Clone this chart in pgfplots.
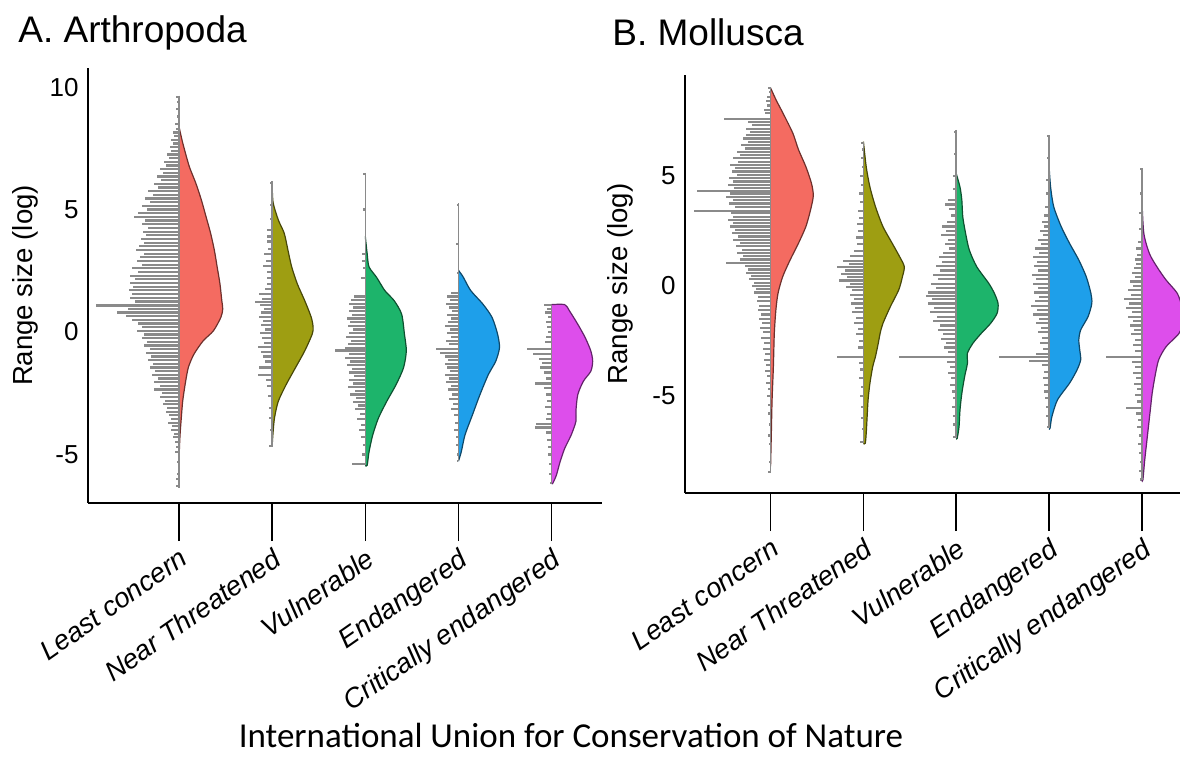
\documentclass[border=0pt]{standalone}
\usepackage{fontspec}
\setmainfont{Liberation Sans}
\newfontfamily\calib{Carlito}
\usepackage{pgfplots}
\usepackage{pgfplotstable}
\pgfplotsset{compat=1.18}

\definecolor{cLC}{HTML}{F46B61}
\definecolor{cNT}{HTML}{9E9E12}
\definecolor{cV}{HTML}{1DB46B}
\definecolor{cE}{HTML}{1E9FEA}
\definecolor{cCE}{HTML}{DD4EEB}
\definecolor{rug}{HTML}{8A8A8A}

% ---------------- Panel A: gray rug lines (y = value, w = length in category units)
\pgfplotstableread{
y w
9.60 0.03
9.40 0.02
9.10 0.03
8.80 0.02
8.50 0.04
8.30 0.03
8.15 0.06
8.00 0.05
7.85 0.08
7.70 0.06
7.55 0.10
7.40 0.08
7.25 0.13
7.10 0.11
6.95 0.16
6.80 0.14
6.65 0.20
6.50 0.17
6.35 0.24
6.20 0.19
6.05 0.27
5.90 0.22
5.75 0.33
5.60 0.28
5.45 0.36
5.30 0.31
5.15 0.40
5.00 0.34
4.85 0.44
4.70 0.48
4.55 0.36
4.40 0.40
4.25 0.33
4.10 0.39
3.95 0.35
3.80 0.41
3.65 0.37
3.50 0.43
3.35 0.46
3.20 0.38
3.05 0.42
2.90 0.45
2.75 0.40
2.60 0.50
2.45 0.44
2.30 0.52
2.15 0.47
2.00 0.53
1.85 0.49
1.70 0.54
1.55 0.50
1.40 0.52
1.25 0.47
1.08 0.89
0.95 0.55
0.80 0.66
0.65 0.57
0.50 0.50
0.35 0.44
0.20 0.40
0.05 0.45
-0.10 0.37
-0.25 0.40
-0.40 0.34
-0.55 0.38
-0.70 0.31
-0.85 0.35
-1.00 0.30
-1.15 0.33
-1.30 0.28
-1.45 0.31
-1.60 0.26
-1.75 0.29
-1.90 0.23
-2.05 0.27
-2.20 0.20
-2.35 0.27
-2.50 0.18
-2.65 0.20
-2.80 0.15
-2.95 0.17
-3.10 0.13
-3.25 0.14
-3.40 0.11
-3.55 0.09
-3.70 0.12
-3.85 0.07
-4.00 0.08
-4.15 0.05
-4.30 0.06
-4.50 0.04
-4.70 0.03
-4.90 0.04
-5.30 0.02
-5.80 0.02
-6.00 0.03
-6.30 0.03
}\gALC
\pgfplotstableread{
y w
6.10 0.02
5.20 0.02
4.60 0.02
4.15 0.06
3.90 0.05
3.70 0.06
3.40 0.04
3.20 0.09
2.90 0.07
2.70 0.10
2.45 0.05
2.20 0.06
1.95 0.05
1.75 0.08
1.55 0.14
1.35 0.11
1.22 0.18
1.10 0.13
0.95 0.09
0.80 0.12
0.60 0.14
0.45 0.10
0.30 0.12
0.10 0.08
-0.05 0.13
-0.25 0.11
-0.45 0.09
-0.60 0.15
-0.80 0.12
-1.00 0.10
-1.20 0.08
-1.45 0.14
-1.75 0.15
-1.95 0.07
-2.20 0.05
-2.60 0.04
-3.10 0.03
-3.50 0.03
-4.00 0.02
-4.65 0.03
}\gANT
\pgfplotstableread{
y w
6.45 0.02
5.00 0.02
3.20 0.04
2.90 0.04
2.60 0.03
2.20 0.05
1.45 0.12
1.30 0.15
1.15 0.17
1.00 0.13
0.85 0.18
0.70 0.14
0.55 0.20
0.40 0.16
0.25 0.19
0.10 0.13
-0.05 0.17
-0.20 0.21
-0.35 0.15
-0.50 0.19
-0.65 0.22
-0.75 0.33
-0.90 0.18
-1.05 0.22
-1.20 0.16
-1.35 0.20
-1.50 0.14
-1.65 0.18
-1.80 0.12
-1.95 0.17
-2.10 0.13
-2.25 0.19
-2.40 0.11
-2.55 0.16
-2.70 0.10
-2.85 0.13
-3.00 0.08
-3.15 0.11
-3.35 0.06
-3.55 0.09
-3.80 0.05
-4.00 0.07
-4.30 0.05
-4.60 0.03
-5.00 0.04
-5.40 0.14
}\gAV
\pgfplotstableread{
y w
5.20 0.02
3.60 0.03
2.40 0.02
1.60 0.08
1.45 0.12
1.30 0.09
1.15 0.13
1.00 0.10
0.85 0.07
0.70 0.12
0.55 0.08
0.40 0.11
0.25 0.14
0.10 0.09
-0.05 0.12
-0.20 0.08
-0.35 0.13
-0.50 0.10
-0.70 0.24
-0.85 0.20
-1.00 0.14
-1.15 0.11
-1.30 0.15
-1.45 0.12
-1.60 0.09
-1.75 0.14
-1.90 0.10
-2.05 0.13
-2.20 0.08
-2.35 0.11
-2.55 0.07
-2.75 0.10
-2.95 0.06
-3.15 0.08
-3.40 0.05
-3.70 0.04
-4.00 0.05
-4.30 0.03
-4.60 0.03
-5.00 0.02
-5.25 0.02
}\gAE
\pgfplotstableread{
y w
1.10 0.08
0.95 0.05
0.80 0.07
0.60 0.04
0.40 0.06
0.20 0.05
0.00 0.04
-0.20 0.06
-0.40 0.07
-0.70 0.26
-0.90 0.20
-1.10 0.14
-1.25 0.10
-1.45 0.13
-1.65 0.08
-1.90 0.06
-2.10 0.18
-2.30 0.08
-2.55 0.06
-2.80 0.05
-3.05 0.07
-3.35 0.05
-3.55 0.06
-3.75 0.17
-3.90 0.18
-4.10 0.06
-4.40 0.05
-4.70 0.04
-5.00 0.04
-5.40 0.03
-5.80 0.03
-6.15 0.02
}\gACE

% ---------------- Panel A: half violins (v = value, w = half width)
\pgfplotstableread{
v w
8.40 0
7.73 0.04
6.77 0.11
6.09 0.18
5.40 0.24
4.72 0.29
4.03 0.34
3.34 0.38
2.66 0.41
1.97 0.44
1.28 0.46
0.94 0.47
0.60 0.45
0.05 0.37
-0.36 0.26
-0.91 0.16
-1.46 0.10
-2.15 0.066
-2.83 0.04
-3.52 0.025
-4.19 0.012
-4.89 0.004
-6.00 0
}\vALC
\pgfplotstableread{
v w
6.10 0
5.30 0.01
4.58 0.066
4.03 0.13
3.34 0.17
2.66 0.21
1.97 0.27
1.28 0.35
0.60 0.42
0.19 0.44
-0.09 0.43
-0.77 0.35
-1.46 0.25
-2.15 0.15
-2.83 0.066
-3.52 0.025
-4.20 0.008
-4.68 0
}\vANT
\pgfplotstableread{
v w
3.90 0
3.20 0.02
2.66 0.04
2.24 0.12
1.69 0.21
1.28 0.31
0.73 0.39
-0.09 0.42
-0.77 0.44
-1.46 0.41
-2.15 0.33
-2.83 0.23
-3.52 0.14
-4.20 0.08
-4.89 0.04
-5.44 0.02
-5.45 0
}\vAV
\pgfplotstableread{
v w
2.52 0
2.25 0.05
1.70 0.13
1.15 0.26
0.60 0.36
-0.09 0.42
-0.64 0.44
-1.19 0.40
-1.74 0.32
-2.56 0.23
-3.38 0.15
-4.20 0.07
-4.89 0.03
-5.27 0
}\vAE
\pgfplotstableread{
v w
1.12 0
1.12 0.14
0.87 0.19
0.32 0.28
-0.23 0.36
-0.77 0.42
-1.19 0.44
-1.60 0.42
-2.01 0.34
-2.56 0.28
-3.24 0.26
-3.65 0.26
-4.20 0.21
-4.75 0.14
-5.30 0.09
-5.85 0.05
-6.19 0.01
-6.20 0
}\vACE

% ---------------- Panel B: gray rug lines
\pgfplotstableread{
y w
9.00 0.03
8.80 0.02
8.60 0.04
8.40 0.05
8.20 0.04
8.00 0.07
7.85 0.06
7.60 0.50
7.45 0.24
7.30 0.20
7.15 0.27
7.00 0.22
6.85 0.26
6.70 0.30
6.55 0.24
6.40 0.32
6.25 0.28
6.10 0.36
5.95 0.33
5.80 0.40
5.65 0.35
5.50 0.44
5.35 0.38
5.20 0.42
5.05 0.36
4.90 0.45
4.75 0.40
4.60 0.46
4.45 0.39
4.33 0.79
4.20 0.44
4.05 0.48
3.90 0.41
3.75 0.45
3.60 0.38
3.42 0.83
3.30 0.43
3.15 0.40
3.00 0.46
2.85 0.41
2.70 0.44
2.55 0.38
2.40 0.42
2.25 0.35
2.10 0.40
1.95 0.33
1.80 0.37
1.65 0.31
1.50 0.36
1.35 0.30
1.20 0.33
1.03 0.48
0.90 0.28
0.75 0.24
0.60 0.26
0.45 0.21
0.30 0.23
0.15 0.18
0.00 0.20
-0.15 0.16
-0.30 0.18
-0.50 0.14
-0.70 0.15
-0.90 0.12
-1.10 0.14
-1.30 0.10
-1.50 0.12
-1.70 0.09
-1.90 0.11
-2.10 0.08
-2.35 0.10
-2.60 0.07
-2.85 0.08
-3.10 0.06
-3.35 0.07
-3.60 0.05
-3.85 0.06
-4.10 0.04
-4.40 0.05
-4.70 0.03
-5.00 0.04
-5.40 0.03
-5.80 0.03
-6.30 0.02
-6.80 0.03
-7.20 0.02
-8.00 0.02
-8.45 0.03
}\gBLC
\pgfplotstableread{
y w
6.50 0.03
6.20 0.02
5.80 0.03
5.40 0.02
5.00 0.04
4.60 0.03
4.20 0.05
3.80 0.04
3.40 0.06
3.10 0.05
2.80 0.07
2.50 0.06
2.20 0.08
1.90 0.07
1.60 0.10
1.35 0.14
1.15 0.22
1.00 0.16
0.85 0.28
0.70 0.20
0.55 0.24
0.40 0.18
0.25 0.26
0.10 0.15
-0.05 0.19
-0.20 0.12
-0.40 0.15
-0.60 0.10
-0.80 0.13
-1.00 0.09
-1.20 0.12
-1.45 0.08
-1.70 0.10
-1.95 0.06
-2.20 0.08
-2.50 0.05
-2.80 0.06
-3.24 0.28
-3.50 0.05
-3.80 0.04
-4.20 0.05
-4.60 0.03
-5.00 0.04
-5.50 0.03
-6.00 0.03
-6.50 0.02
-7.10 0.04
}\gBNT
\pgfplotstableread{
y w
7.00 0.02
6.00 0.02
5.00 0.03
4.40 0.04
3.90 0.09
3.70 0.12
3.50 0.08
3.20 0.06
2.90 0.10
2.70 0.15
2.50 0.11
2.30 0.16
2.10 0.09
1.90 0.12
1.70 0.08
1.50 0.14
1.30 0.19
1.10 0.15
0.90 0.22
0.70 0.18
0.50 0.25
0.30 0.20
0.10 0.27
-0.10 0.22
-0.30 0.30
-0.45 0.33
-0.60 0.26
-0.80 0.30
-1.00 0.24
-1.20 0.28
-1.40 0.21
-1.60 0.25
-1.80 0.17
-2.00 0.20
-2.20 0.14
-2.40 0.16
-2.60 0.11
-2.80 0.13
-3.00 0.09
-3.24 0.62
-3.45 0.10
-3.70 0.07
-3.95 0.09
-4.20 0.06
-4.50 0.07
-4.80 0.05
-5.10 0.04
-5.50 0.05
-5.90 0.03
-6.30 0.03
-6.85 0.03
}\gBV
\pgfplotstableread{
y w
6.80 0.02
5.80 0.02
4.80 0.03
4.20 0.03
3.60 0.04
3.20 0.05
2.90 0.08
2.70 0.06
2.50 0.10
2.30 0.07
2.10 0.12
1.90 0.09
1.70 0.15
1.50 0.11
1.30 0.17
1.10 0.13
0.90 0.16
0.70 0.12
0.50 0.18
0.30 0.14
0.10 0.17
-0.10 0.12
-0.30 0.16
-0.50 0.11
-0.70 0.15
-0.90 0.19
-1.10 0.13
-1.30 0.17
-1.50 0.11
-1.70 0.14
-1.90 0.09
-2.10 0.12
-2.35 0.08
-2.60 0.10
-2.85 0.07
-3.10 0.14
-3.24 0.54
-3.40 0.22
-3.60 0.08
-3.90 0.06
-4.20 0.07
-4.50 0.05
-4.80 0.06
-5.10 0.04
-5.50 0.03
-5.90 0.03
-6.40 0.02
}\gBE
\pgfplotstableread{
y w
5.30 0.02
4.20 0.02
3.30 0.03
2.60 0.03
2.00 0.04
1.70 0.06
1.40 0.05
1.20 0.07
1.00 0.06
0.80 0.09
0.60 0.11
0.40 0.08
0.20 0.13
0.00 0.10
-0.20 0.15
-0.40 0.12
-0.60 0.19
-0.80 0.14
-1.00 0.17
-1.20 0.11
-1.40 0.15
-1.60 0.10
-1.80 0.13
-2.00 0.09
-2.20 0.12
-2.45 0.08
-2.70 0.10
-2.95 0.07
-3.24 0.39
-3.45 0.11
-3.70 0.08
-3.95 0.10
-4.20 0.06
-4.45 0.09
-4.70 0.05
-4.95 0.07
-5.25 0.05
-5.55 0.17
-5.80 0.06
-6.10 0.04
-6.40 0.05
-6.80 0.03
-7.20 0.04
-7.60 0.03
-8.00 0.02
-8.40 0.03
-8.80 0.02
}\gBCE

% ---------------- Panel B: half violins
\pgfplotstableread{
v w
9.00 0
8.45 0.06
7.80 0.14
6.94 0.24
6.20 0.30
5.42 0.38
4.67 0.44
4.10 0.46
3.45 0.43
2.70 0.38
1.94 0.30
1.18 0.21
0.42 0.13
-0.33 0.08
-1.09 0.057
-2.15 0.04
-3.67 0.03
-5.18 0.016
-6.70 0.008
-8.20 0
}\vBLC
\pgfplotstableread{
v w
6.56 0
5.42 0.03
4.50 0.07
3.60 0.13
2.70 0.21
1.94 0.31
1.33 0.39
0.88 0.44
0.42 0.42
-0.18 0.38
-0.94 0.29
-1.70 0.21
-2.15 0.18
-2.60 0.16
-3.20 0.13
-3.67 0.10
-4.42 0.07
-5.18 0.05
-5.94 0.04
-6.70 0.03
-7.15 0.02
-7.16 0
}\vBNT
\pgfplotstableread{
v w
5.10 0
4.50 0.04
3.90 0.06
3.15 0.07
2.40 0.10
1.64 0.14
0.88 0.22
0.12 0.35
-0.33 0.41
-0.79 0.45
-1.24 0.44
-1.70 0.37
-2.15 0.27
-2.60 0.18
-3.06 0.12
-3.52 0.12
-4.12 0.09
-4.88 0.06
-5.64 0.04
-6.39 0.03
-6.92 0.01
-6.93 0
}\vBV
\pgfplotstableread{
v w
5.42 0
4.50 0.016
3.60 0.05
2.70 0.13
1.94 0.22
1.18 0.32
0.42 0.40
-0.33 0.45
-0.79 0.46
-1.39 0.42
-2.00 0.34
-2.45 0.32
-2.91 0.33
-3.36 0.34
-3.82 0.30
-4.42 0.22
-5.18 0.09
-5.94 0.03
-6.47 0.01
-6.48 0
}\vBE
\pgfplotstableread{
v w
3.90 0
2.40 0.02
1.48 0.08
0.88 0.16
0.27 0.26
-0.33 0.38
-0.94 0.43
-1.55 0.45
-2.15 0.40
-2.76 0.26
-3.36 0.18
-4.12 0.14
-4.88 0.11
-5.64 0.09
-6.39 0.07
-7.15 0.05
-7.91 0.03
-8.82 0.01
-8.83 0
}\vBCE

\pgfplotsset{
  violinaxis/.style={
    scale only axis,
    axis x line*=bottom,
    axis y line*=left,
    axis line style={line width=1.1pt, black},
    xtick={1,2,3,4,5},
    xticklabels={Least concern, Near Threatened, Vulnerable, Endangered, Critically endangered},
    xtick style={black, line width=0.8pt},
    major tick length=19pt,
    tick align=outside,
    ytick={-5,0,5,10},
    yticklabels={-5,0,5,10},
    ytick style={draw=none},
    xticklabel style={font=\fontsize{13.7}{13.7}\selectfont\itshape, rotate=35, anchor=north east, inner sep=1pt},
    xticklabel shift=1.5pt,
    yticklabel style={font=\fontsize{13}{13}\selectfont, inner sep=2pt, xshift=16.5pt},
    ylabel={Range size (log)},
    ylabel style={font=\fontsize{13.8}{14}\selectfont, anchor=center},
    clip=true,
  },
  rugstyle/.style={rug, line width=1.1pt, forget plot,
    quiver={u=-\thisrow{w}, v=0, every arrow/.append style={-}}},
  violin/.style={fill=#1, draw=black!55!#1, line width=0.6pt, smooth, tension=0.45},
  cline/.style={rug, line width=0.8pt},
}

\begin{document}
\begin{tikzpicture}
\path[use as bounding box] (0,0) rectangle (590pt,380.5pt);

% ---------- Panel A
\begin{axis}[violinaxis,
  at={(44pt,129pt)}, anchor=south west,
  width=257pt, height=217.5pt,
  xmin=0.024, xmax=5.54, ymin=-6.98, ymax=10.78,
  ylabel style={at={(axis description cs:-0.1226,0.5)}}]
  \addplot[rugstyle] table[x expr=1, y=y] {\gALC};
  \addplot[rugstyle] table[x expr=2, y=y] {\gANT};
  \addplot[rugstyle] table[x expr=3, y=y] {\gAV};
  \addplot[rugstyle] table[x expr=4, y=y] {\gAE};
  \addplot[rugstyle] table[x expr=5, y=y] {\gACE};
  \addplot[violin=cLC]  table[x expr=1+\thisrow{w}, y=v] {\vALC};
  \addplot[violin=cNT]  table[x expr=2+\thisrow{w}, y=v] {\vANT};
  \addplot[violin=cV]   table[x expr=3+\thisrow{w}, y=v] {\vAV};
  \addplot[violin=cE]   table[x expr=4+\thisrow{w}, y=v] {\vAE};
  \addplot[violin=cCE]  table[x expr=5+\thisrow{w}, y=v] {\vACE};
  \addplot[cline] coordinates {(1,9.65) (1,-6.35)};
  \addplot[cline] coordinates {(2,6.15) (2,-4.68)};
  \addplot[cline] coordinates {(3,6.50) (3,-5.44)};
  \addplot[cline] coordinates {(4,5.26) (4,-5.27)};
  \addplot[cline] coordinates {(5,1.12) (5,-6.19)};
\end{axis}

% ---------- Panel B
\begin{axis}[violinaxis,
  at={(342.5pt,134pt)}, anchor=south west,
  width=247.5pt, height=209pt,
  xmin=0.078, xmax=5.41, ymin=-9.41, ymax=9.59,
  ylabel style={at={(axis description cs:-0.1313,0.5)}}]
  \addplot[rugstyle] table[x expr=1, y=y] {\gBLC};
  \addplot[rugstyle] table[x expr=2, y=y] {\gBNT};
  \addplot[rugstyle] table[x expr=3, y=y] {\gBV};
  \addplot[rugstyle] table[x expr=4, y=y] {\gBE};
  \addplot[rugstyle] table[x expr=5, y=y] {\gBCE};
  \addplot[violin=cLC]  table[x expr=1+\thisrow{w}, y=v] {\vBLC};
  \addplot[violin=cNT]  table[x expr=2+\thisrow{w}, y=v] {\vBNT};
  \addplot[violin=cV]   table[x expr=3+\thisrow{w}, y=v] {\vBV};
  \addplot[violin=cE]   table[x expr=4+\thisrow{w}, y=v] {\vBE};
  \addplot[violin=cCE]  table[x expr=5+\thisrow{w}, y=v] {\vBCE};
  \addplot[cline] coordinates {(1,9.03) (1,-8.50)};
  \addplot[cline] coordinates {(2,6.56) (2,-7.15)};
  \addplot[cline] coordinates {(3,7.09) (3,-6.92)};
  \addplot[cline] coordinates {(4,6.86) (4,-6.47)};
  \addplot[cline] coordinates {(5,5.35) (5,-8.82)};
\end{axis}

% ---------- titles and common label
\node[anchor=base west, font=\fontsize{18.5}{18.5}\selectfont, inner sep=0pt] at (9pt,359pt) {A. Arthropoda};
\node[anchor=base west, font=\fontsize{18.5}{18.5}\selectfont, inner sep=0pt] at (306pt,357.5pt) {B. Mollusca};
\node[anchor=center, font=\calib\fontsize{17.5}{18}\selectfont] at (285.5pt,13pt) {International Union for Conservation of Nature};
\end{tikzpicture}
\end{document}
